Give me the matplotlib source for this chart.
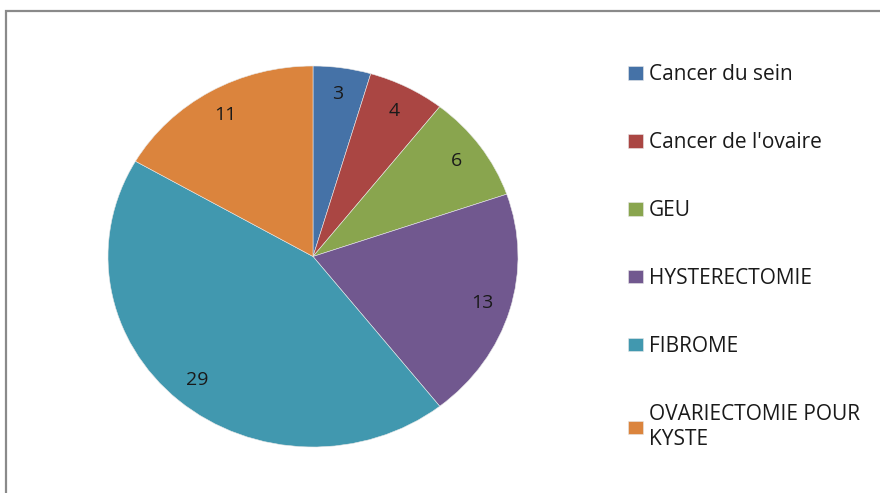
import matplotlib.pyplot as plt
from matplotlib.patches import Rectangle

categories = ["Cancer du sein", "Cancer de l'ovaire", "GEU", "HYSTERECTOMIE",
              "FIBROME", "OVARIECTOMIE POUR\nKYSTE"]
values = [3, 4, 6, 13, 29, 11]
colors = ["#4572A7", "#AA4643", "#89A54E", "#71588F", "#4198AF", "#DB843D"]

plt.rcParams['font.family'] = ['Open Sans', 'DejaVu Sans']

total = sum(values)

fig = plt.figure(figsize=(8.8, 4.93), dpi=100)

# outer frame of the chart area (cut by the image edges)
fig.patches.append(Rectangle((6 / 880, -0.05), 1.1, 1 - 11 / 493 + 0.05,
                             transform=fig.transFigure, fill=False,
                             edgecolor="#8a8a8a", linewidth=1.6))

ax = fig.add_axes([108 / 880, 46 / 493, 410 / 880, 381 / 493])
wedges, texts, autotexts = ax.pie(
    values, colors=colors, startangle=90, counterclock=False,
    autopct=lambda p: f"{round(p * total / 100)}", pctdistance=0.86,
    wedgeprops=dict(linewidth=0.4, edgecolor="#e8e8e8"),
    textprops=dict(fontsize=14, color="#1a1a1a"))
ax.set_aspect('auto')
ax.set_xlim(-1, 1)
ax.set_ylim(-1, 1)

leg = fig.legend(wedges, categories, loc="upper left",
                 bbox_to_anchor=(620 / 880, 1 - 56 / 493),
                 frameon=False, fontsize=15, handlelength=0.68, handleheight=0.62,
                 handletextpad=0.3, labelspacing=2.25, borderaxespad=0,
                 labelcolor="#1a1a1a")
for t in leg.get_texts():
    t.set_linespacing(1.25)

fig.savefig("out.png", dpi=100)
